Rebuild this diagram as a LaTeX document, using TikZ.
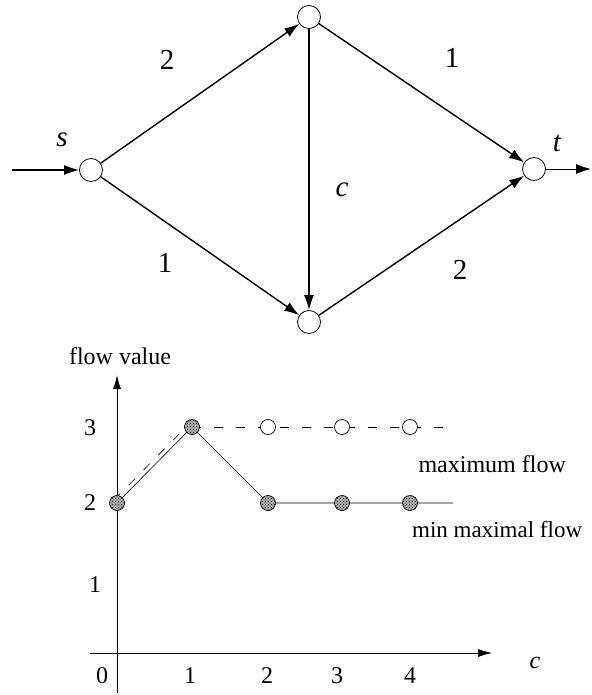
\documentclass[tikz,border=0pt]{standalone}
\usepackage{fontspec}
\setmainfont{Liberation Serif}
\usetikzlibrary{arrows.meta,patterns}
\begin{document}
\begin{tikzpicture}[x=1pt,y=-1pt,
  vtx/.style={circle,draw,line width=0.8pt,minimum size=23pt,inner sep=0pt,fill=white},
  edge/.style={line width=1.4pt,-{Latex[length=15pt,width=10pt]}},
  elab/.style={font=\fontsize{29}{33}\selectfont},
  clab/.style={font=\fontsize{24}{28}\selectfont},
  full/.style={circle,draw,line width=0.7pt,minimum size=15pt,inner sep=0pt,preaction={fill=gray!60},pattern=crosshatch dots,pattern color=black},
  hollow/.style={circle,draw,line width=0.7pt,minimum size=15pt,inner sep=0pt,fill=white},
  axis/.style={line width=1pt,-{Latex[length=14pt,width=8pt]}}]
\useasboundingbox (0,0) rectangle (591,695);
% network
\node[vtx] (s) at (91,170) {};
\node[vtx] (u) at (309,17) {};
\node[vtx] (v) at (309,322) {};
\node[vtx] (t) at (534,169) {};
\coordinate (in) at (12,170);
\coordinate (out) at (591,169);
\draw[edge] (in) -- (s);
\draw[edge] (s) -- (u);
\draw[edge] (s) -- (v);
\draw[edge] (u) -- (v);
\draw[edge] (u) -- (t);
\draw[edge] (v) -- (t);
\draw[line width=1pt,-{Latex[length=15pt,width=10pt]}] (t) -- (out);
\node[elab] (l1) at (167,60) {2};
\node[elab] (l2) at (452,58) {1};
\node[elab] (l3) at (165,263) {1};
\node[elab] (l4) at (460,270) {2};
\node[elab] (ls) at (62,140) {\itshape s};
\node[elab] (lc) at (342,190) {\itshape c};
\node[elab] (lt) at (557,143) {\itshape t};
% chart
\coordinate (yb) at (117,693);
\coordinate (yt) at (117,375);
\coordinate (xl) at (90,653);
\coordinate (xr) at (492,653);
\draw[axis] (yb) -- (yt);
\draw[axis,line width=0.7pt] (xl) -- (xr);
\node[clab] (fv) at (120,356) {flow value};
\node[clab] (xc) at (535,663) {\itshape c};
\node[clab] (x0) at (102,676) {0};
\node[clab] (x1) at (190,676) {1};
\node[clab] (x2) at (267,676) {2};
\node[clab] (x3) at (337,676) {3};
\node[clab] (x4) at (410,676) {4};
\node[clab] (y1) at (95,585) {1};
\node[clab] (y2) at (90,503) {2};
\node[clab] (y3) at (90,428) {3};
% data
\coordinate (p0) at (117,503);
\coordinate (p1) at (192,427);
\coordinate (p2) at (268,503);
\coordinate (p3) at (342,503);
\coordinate (p4) at (410,503);
\coordinate (q2) at (268,427);
\coordinate (q3) at (342,427);
\coordinate (q4) at (410,427);
\coordinate (qe) at (447,427);
\coordinate (pe) at (453,503);
\draw[line width=0.6pt] (p0) -- (p1) -- (p2) -- (p3) -- (p4) -- (pe);
\draw[line width=0.6pt,dash pattern=on 9pt off 12pt] ([shift={(-3,-3)}]p0) -- ([shift={(-3,-3)}]p1);
\draw[line width=0.6pt,dash pattern=on 9pt off 13pt] (p1) -- (qe);
\node[full] (n0) at (p0) {};
\node[full] (n1) at (p1) {};
\node[full] (n2) at (p2) {};
\node[full] (n3) at (p3) {};
\node[full] (n4) at (p4) {};
\node[hollow] (m2) at (q2) {};
\node[hollow] (m3) at (q3) {};
\node[hollow] (m4) at (q4) {};
\node[clab,anchor=west] (mf) at (415,464) {maximum flow};
\node[clab,anchor=west,font=\fontsize{23}{27}\selectfont,inner sep=1pt] (mm) at (411,530) {min maximal flow};
\end{tikzpicture}
\end{document}
